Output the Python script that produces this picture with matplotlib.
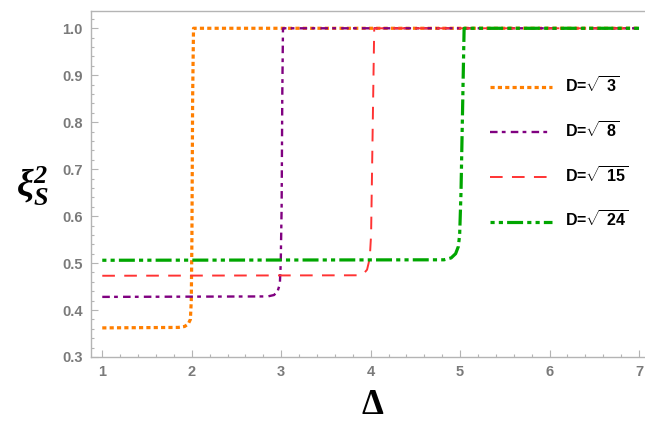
import matplotlib
matplotlib.use('Agg')
import matplotlib.pyplot as plt
from matplotlib.ticker import MultipleLocator

plt.rcParams['font.family'] = 'Liberation Sans'
plt.rcParams['font.weight'] = 'bold'
plt.rcParams['mathtext.fontset'] = 'custom'
plt.rcParams['mathtext.bf'] = 'Liberation Serif:italic:bold'
plt.rcParams['mathtext.rm'] = 'Liberation Sans:bold'

# squeezing parameter vs Delta, one curve per D
x_sqrt3 = [1.0, 1.85, 1.92, 1.96, 1.985, 1.995, 2.002, 2.01, 2.02, 7.0]
y_sqrt3 = [0.362, 0.363, 0.365, 0.370, 0.38, 0.42, 0.55, 0.85, 1.0, 1.0]

x_sqrt8 = [1.0, 2.85, 2.92, 2.96, 2.985, 2.995, 3.005, 3.012, 3.02, 7.0]
y_sqrt8 = [0.428, 0.429, 0.432, 0.440, 0.455, 0.50, 0.62, 0.85, 1.0, 1.0]

x_sqrt15 = [1.0, 3.85, 3.92, 3.96, 3.99, 4.005, 4.02, 4.04, 7.0]
y_sqrt15 = [0.473, 0.474, 0.477, 0.486, 0.51, 0.56, 0.75, 1.0, 1.0]

x_sqrt24 = [1.0, 4.82, 4.9, 4.95, 4.98, 4.995, 5.01, 5.03, 5.045, 7.0]
y_sqrt24 = [0.506, 0.507, 0.511, 0.52, 0.535, 0.56, 0.65, 0.85, 1.0, 1.0]

labels = [r'D=$\sqrt{\mathrm{\ 3}}$', r'D=$\sqrt{\mathrm{\ 8}}$',
          r'D=$\sqrt{\mathrm{\ 15}}$', r'D=$\sqrt{\mathrm{\ 24}}$']

fig = plt.figure(figsize=(6.45, 4.24), dpi=100)
ax = fig.add_axes([91/645, 67/424, 1 - 91/645, 346/424])

l1, = ax.plot(x_sqrt3, y_sqrt3, color='#ff7f00', lw=2.3)
l1.set_dashes((1.3, 1.0))
l2, = ax.plot(x_sqrt8, y_sqrt8, color='#800080', lw=1.7)
l2.set_dashes((3.2, 1.8, 1.6, 2.2))
l3, = ax.plot(x_sqrt15, y_sqrt15, color='#ff3333', lw=1.4)
l3.set_dashes((6.5, 4.8))
l4, = ax.plot(x_sqrt24, y_sqrt24, color='#00a600', lw=2.3)
l4.set_dashes((1.3, 1.3, 1.3, 1.3, 5.0, 1.3))

ax.set_xlim(0.874, 7.067)
ax.set_ylim(0.3, 1.0368)

ax.xaxis.set_major_locator(MultipleLocator(1))
ax.xaxis.set_minor_locator(MultipleLocator(0.2))
ax.yaxis.set_major_locator(MultipleLocator(0.1))
ax.yaxis.set_minor_locator(MultipleLocator(0.02))
ax.yaxis.set_major_formatter(plt.FormatStrFormatter('%.1f'))

for s in ['left', 'bottom', 'top']:
    ax.spines[s].set_color('#b4b4b4')
    ax.spines[s].set_linewidth(1.0)
ax.spines['right'].set_visible(False)

ax.tick_params(which='both', direction='in', color='#b4b4b4', width=0.8,
               top=False, right=False)
ax.tick_params(which='major', length=5)
ax.tick_params(which='minor', length=2.5)
ax.tick_params(axis='both', labelsize=10.5, labelcolor='#7a7a7a', pad=6)
fig.canvas.draw()
plt.setp(ax.get_xticklabels() + ax.get_yticklabels(), fontweight='heavy')

fig.text(32/645, 1 - 186/424, r'$\mathbf{\xi_S^2}$', fontsize=27,
         ha='center', va='center')
fig.text(372/645, 2/424, '\u0394', fontsize=25, fontweight='bold',
         family='Liberation Serif', ha='center', va='bottom')

leg = ax.legend([l1, l2, l3, l4], labels, loc='upper left',
                bbox_to_anchor=(490/645, 1 - 76/424),
                bbox_transform=fig.transFigure, frameon=False,
                borderpad=0, borderaxespad=0,
                handlelength=3.9, handletextpad=0.8, labelspacing=1.55,
                prop={'family': 'Liberation Sans', 'weight': 'bold',
                      'size': 11.5})

fig.savefig('out.png', dpi=100)
